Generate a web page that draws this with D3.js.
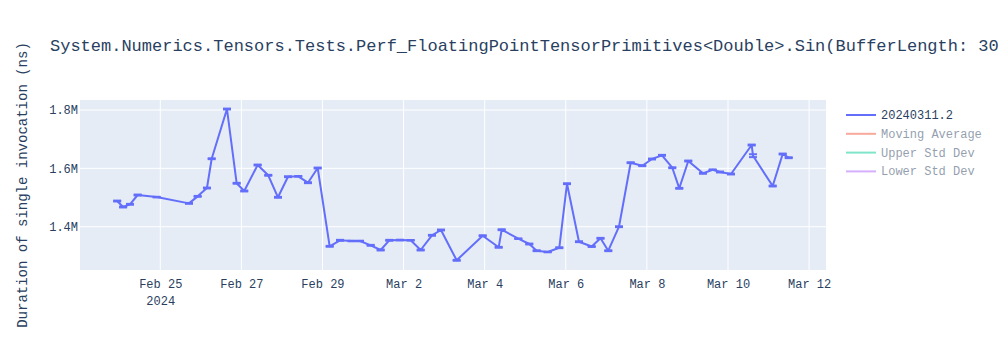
<!DOCTYPE html>
<html>
<head>
<meta charset="utf-8">
<script src="https://cdn.jsdelivr.net/npm/d3@7"></script>
<style>
    body { margin: 0; background: #fff; }
    svg text { font-family: "Courier New", "Liberation Mono", monospace; }
    .tick-label { fill: #2a3f5f; font-size: 12px; }
</style>
</head>
<body>
<svg class="chart"></svg>
<script>
// run timestamps (local time) and median duration in ns
const runDates = [
    "2024-02-23T22:30", "2024-02-24T02:00", "2024-02-24T06:05", "2024-02-24T10:37", "2024-02-24T21:52",
    "2024-02-25T17:00", "2024-02-25T22:08", "2024-02-26T03:38", "2024-02-26T06:26", "2024-02-26T15:29",
    "2024-02-26T21:13", "2024-02-27T01:42", "2024-02-27T09:38", "2024-02-27T15:55", "2024-02-27T21:40",
    "2024-02-28T03:35", "2024-02-28T09:40", "2024-02-28T15:25", "2024-02-28T21:10", "2024-02-29T04:16",
    "2024-02-29T10:22", "2024-02-29T17:17", "2024-02-29T22:12", "2024-03-01T04:32", "2024-03-01T10:26",
    "2024-03-01T15:32", "2024-03-01T21:52", "2024-03-02T04:12", "2024-03-02T10:07", "2024-03-02T16:48",
    "2024-03-02T22:08", "2024-03-03T07:25", "2024-03-03T22:49", "2024-03-04T08:17", "2024-03-04T10:03",
    "2024-03-04T19:54", "2024-03-05T02:24", "2024-03-05T06:46", "2024-03-05T13:17", "2024-03-05T20:10",
    "2024-03-06T00:43", "2024-03-06T07:48", "2024-03-06T15:20", "2024-03-06T20:33", "2024-03-07T01:09",
    "2024-03-07T07:29", "2024-03-07T14:24", "2024-03-07T21:16", "2024-03-08T03:01", "2024-03-08T08:56",
    "2024-03-08T15:02", "2024-03-08T19:10", "2024-03-09T00:30", "2024-03-09T09:11", "2024-03-09T14:56",
    "2024-03-09T19:16", "2024-03-10T01:47", "2024-03-10T14:01", "2024-03-10T14:48", "2024-03-11T02:27",
    "2024-03-11T08:22", "2024-03-11T11:56"
]

const durations = [
    1488000, 1467500, 1476800, 1508700, 1501500,
    1480000, 1504000, 1532600, 1633000, 1803400,
    1548800, 1522400, 1611500, 1576200, 1500800,
    1571400, 1572700, 1550800, 1601200, 1332800,
    1353400, 1351000, 1351000, 1336200, 1320100,
    1353400, 1354400, 1353400, 1320100, 1370500,
    1388700, 1284800, 1369200, 1329400, 1389700,
    1358900, 1340700, 1317700, 1313300, 1328000,
    1547400, 1348600, 1332100, 1360200, 1317700,
    1400000, 1619400, 1609100, 1632000, 1644700,
    1602200, 1531600, 1625200, 1583000, 1595400,
    1587500, 1580600, 1680000, 1643400, 1539500,
    1649200, 1636500
]

// half-width of the error bar for each run (ns)
const errors = [
    1500, 1500, 1500, 1500, 1000,
    1500, 1500, 1500, 1500, 1500,
    1500, 1500, 1500, 1500, 1500,
    1500, 1000, 1500, 1500, 1500,
    1500, 1000, 1000, 1500, 1500,
    1500, 1000, 1000, 1500, 1500,
    1500, 1500, 1500, 1500, 1500,
    1000, 1500, 1500, 1000, 1500,
    1500, 1500, 1500, 1500, 1500,
    1500, 1500, 1500, 1500, 1500,
    1500, 1500, 1500, 1500, 1000,
    1500, 1500, 1500, 5000, 1500,
    1500, 1500
]

const xTicks = ["2024-02-25", "2024-02-27", "2024-02-29", "2024-03-02", "2024-03-04", "2024-03-06", "2024-03-08", "2024-03-10", "2024-03-12"]
const xTickLabels = ["Feb 25", "Feb 27", "Feb 29", "Mar 2", "Mar 4", "Mar 6", "Mar 8", "Mar 10", "Mar 12"]
const yTicks = [1400000, 1600000, 1800000]
const yTickLabels = ["1.4M", "1.6M", "1.8M"]

const legendNames = ["20240311.2", "Moving Average", "Upper Std Dev", "Lower Std Dev"]
const legendColors = ["#636efa", "#EF553B", "#00cc96", "#ab63fa"]

const title = "System.Numerics.Tensors.Tests.Perf_FloatingPointTensorPrimitives<Double>.Sin(BufferLength: 30"
const yTitle = "Duration of single invocation (ns)"

var margin = {top: 100, right: 174, bottom: 80, left: 80}
    , width = 1000 - margin.left - margin.right
    , height = 350 - margin.top - margin.bottom;

var parseTime = d3.timeParse("%Y-%m-%dT%H:%M")
var parseDay = d3.timeParse("%Y-%m-%d")

const data = runDates.map((d, i) => ({date: parseTime(d), value: durations[i], err: errors[i]}))

var x = d3.scaleTime()
    .domain([parseTime("2024-02-23T00:30"), parseTime("2024-03-12T10:00")])
    .range([0, width])

var y = d3.scaleLinear()
    .domain([1251600, 1834300])
    .range([height, 0])

var svg = d3.select(".chart")
    .attr("width", 1000)
    .attr("height", 350)
    .style("display", "block")

svg.append("text")
    .attr("x", 50)
    .attr("y", 51)
    .attr("fill", "#2a3f5f")
    .style("font-size", "17px")
    .style("white-space", "pre")
    .text(title)

var graph = svg.append("g")
    .attr("transform", "translate(" + margin.left + "," + margin.top + ")")

graph.append("rect")
    .attr("width", width)
    .attr("height", height)
    .attr("fill", "#E5ECF6")

// grid lines
graph.append("g")
    .selectAll("line")
    .data(xTicks.map(parseDay))
    .enter().append("line")
    .attr("x1", d => x(d)).attr("x2", d => x(d))
    .attr("y1", 0).attr("y2", height)
    .attr("stroke", "#fff")
    .attr("stroke-width", 1)

graph.append("g")
    .selectAll("line")
    .data(yTicks)
    .enter().append("line")
    .attr("x1", 0).attr("x2", width)
    .attr("y1", d => y(d)).attr("y2", d => y(d))
    .attr("stroke", "#fff")
    .attr("stroke-width", 1)

// axes, labels only
var xAxis = graph.append("g")
    .attr("transform", "translate(0," + height + ")")
    .call(d3.axisBottom(x)
        .tickValues(xTicks.map(parseDay))
        .tickFormat((d, i) => xTickLabels[i])
        .tickSize(0)
        .tickPadding(9))
    .attr("font-family", null)
    .attr("font-size", null)
xAxis.select(".domain").remove()
xAxis.selectAll("text")
    .attr("class", "tick-label")

xAxis.select(".tick text")
    .append("tspan")
    .attr("x", 0)
    .attr("dy", "1.45em")
    .text("2024")

var yAxis = graph.append("g")
    .call(d3.axisLeft(y)
        .tickValues(yTicks)
        .tickFormat((d, i) => yTickLabels[i])
        .tickSize(0)
        .tickPadding(2))
    .attr("font-family", null)
    .attr("font-size", null)
yAxis.select(".domain").remove()
yAxis.selectAll("text")
    .attr("class", "tick-label")

svg.append("text")
    .attr("transform", "translate(27," + (margin.top + height / 2) + ") rotate(-90)")
    .attr("text-anchor", "middle")
    .attr("fill", "#2a3f5f")
    .style("font-size", "14px")
    .text(yTitle)

// the run series
var line = d3.line()
    .x(d => x(d.date))
    .y(d => y(d.value))

graph.append("path")
    .datum(data)
    .attr("fill", "none")
    .attr("stroke", legendColors[0])
    .attr("stroke-width", 2)
    .attr("stroke-linejoin", "round")
    .attr("d", line)

// error bars
const bars = graph.append("g")
    .attr("stroke", legendColors[0])
    .attr("stroke-width", 2)
    .selectAll("g")
    .data(data)
    .enter().append("g")

bars.append("line")
    .attr("x1", d => x(d.date)).attr("x2", d => x(d.date))
    .attr("y1", d => y(d.value - d.err)).attr("y2", d => y(d.value + d.err))

bars.append("line")
    .attr("x1", d => x(d.date) - 4).attr("x2", d => x(d.date) + 4)
    .attr("y1", d => y(d.value + d.err)).attr("y2", d => y(d.value + d.err))

bars.append("line")
    .attr("x1", d => x(d.date) - 4).attr("x2", d => x(d.date) + 4)
    .attr("y1", d => y(d.value - d.err)).attr("y2", d => y(d.value - d.err))

// legend
const legend = svg.append("g")
    .attr("transform", "translate(846,115)")

const items = legend.selectAll("g")
    .data(legendNames)
    .enter().append("g")
    .attr("transform", (d, i) => "translate(0," + (i * 18.8) + ")")
    .attr("opacity", (d, i) => i === 0 ? 1 : 0.5)

items.append("line")
    .attr("x1", 0).attr("x2", 30)
    .attr("stroke", (d, i) => legendColors[i])
    .attr("stroke-width", 2)

items.append("text")
    .attr("x", 35)
    .attr("y", 4)
    .attr("fill", "#2a3f5f")
    .style("font-size", "12px")
    .text(d => d)
</script>
</body>
</html>
